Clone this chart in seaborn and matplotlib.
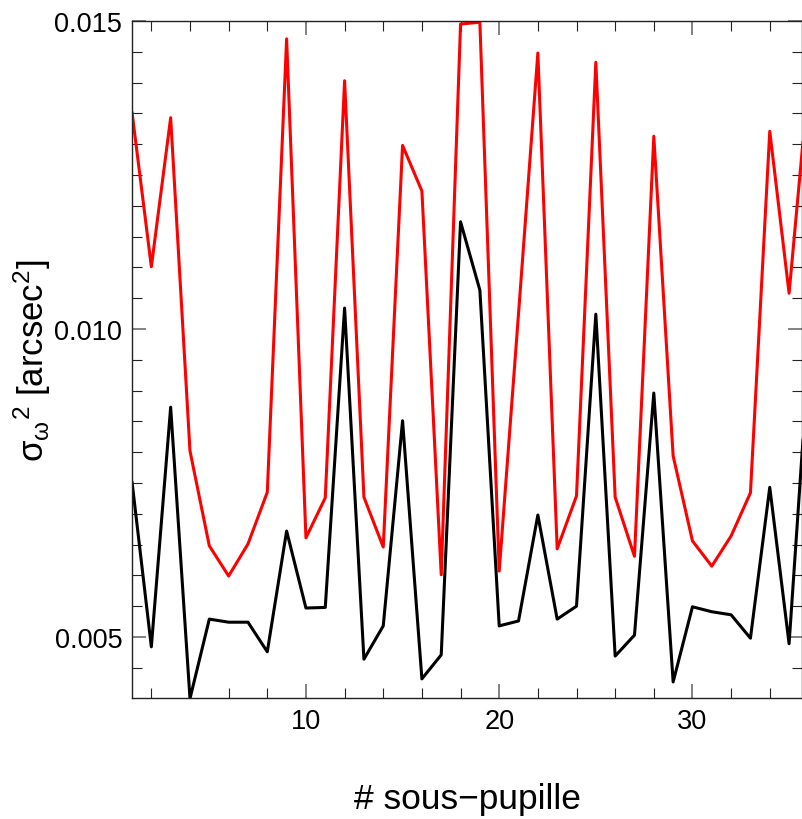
#!/usr/bin/env python3

import numpy as np
import pandas as pd
import seaborn as sns
import matplotlib.pyplot as plt
from matplotlib.ticker import MultipleLocator, FormatStrFormatter

# sub-pupil index
subpupil = list(range(1, 37))

# variance, red series (upper)
var_red = [0.01352, 0.01101, 0.01343, 0.00802, 0.00648, 0.00599, 0.00651, 0.00735,
           0.01471, 0.00661, 0.00726, 0.01403, 0.00727, 0.00646, 0.01298, 0.01224,
           0.00601, 0.01495, 0.01498, 0.00607, 0.01025, 0.01448, 0.00643, 0.00729,
           0.01433, 0.00727, 0.00631, 0.01313, 0.00794, 0.00656, 0.00615, 0.00664,
           0.00734, 0.01321, 0.01058, 0.01400]

# variance, black series (lower)
var_black = [0.00752, 0.00484, 0.00873, 0.00400, 0.00529, 0.00524, 0.00524, 0.00476,
             0.00672, 0.00547, 0.00548, 0.01034, 0.00464, 0.00518, 0.00851, 0.00432,
             0.00471, 0.01174, 0.01063, 0.00518, 0.00526, 0.00698, 0.00529, 0.00550,
             0.01024, 0.00469, 0.00503, 0.00896, 0.00427, 0.00549, 0.00541, 0.00536,
             0.00498, 0.00743, 0.00489, 0.00950]

df = pd.DataFrame({
    "x": subpupil * 2,
    "y": var_red + var_black,
    "serie": ["red"] * len(var_red) + ["black"] * len(var_black),
})

sns.set_style("ticks")
plt.rcParams["font.family"] = ["Liberation Sans", "DejaVu Sans"]
plt.rcParams["mathtext.fontset"] = "custom"
plt.rcParams["mathtext.rm"] = "Liberation Sans"
plt.rcParams["mathtext.it"] = "Liberation Sans:italic"
plt.rcParams["text.color"] = "black"
plt.rcParams["axes.labelcolor"] = "black"
plt.rcParams["xtick.labelcolor"] = "black"
plt.rcParams["ytick.labelcolor"] = "black"

fig = plt.figure(figsize=(8.03, 8.20), dpi=100)
ax = fig.add_axes([0.1644, 0.1476, 0.8344, 0.8256])

sns.lineplot(data=df, x="x", y="y", hue="serie",
             palette={"red": "#ff0000", "black": "#000000"},
             linewidth=2.2, legend=False, ax=ax)

ax.set_xlim(1, 35.67)
ax.set_ylim(0.00401, 0.015)

ax.xaxis.set_major_locator(MultipleLocator(10))
ax.xaxis.set_minor_locator(MultipleLocator(2))
ax.yaxis.set_major_locator(MultipleLocator(0.005))
ax.yaxis.set_minor_locator(MultipleLocator(0.0005))
ax.yaxis.set_major_formatter(FormatStrFormatter("%.3f"))

ax.tick_params(which="both", direction="in", top=True, right=True)
ax.tick_params(which="major", length=10, width=1.3, color="#777777", labelsize=19.5, pad=7)
ax.tick_params(which="minor", length=7, width=0.8, color="#222222")

for sp in ax.spines.values():
    sp.set_linewidth(1.0)
    sp.set_color("#222222")

ax.set_xlabel("# sous\u2212pupille", fontsize=25.5, labelpad=35)
ax.set_ylabel(r"$\mathrm{\sigma}_{\mathrm{\omega}}{}^{2}$ [arcsec$^{2}$]", fontsize=25, labelpad=1)

fig.savefig("out.png", dpi=100)
